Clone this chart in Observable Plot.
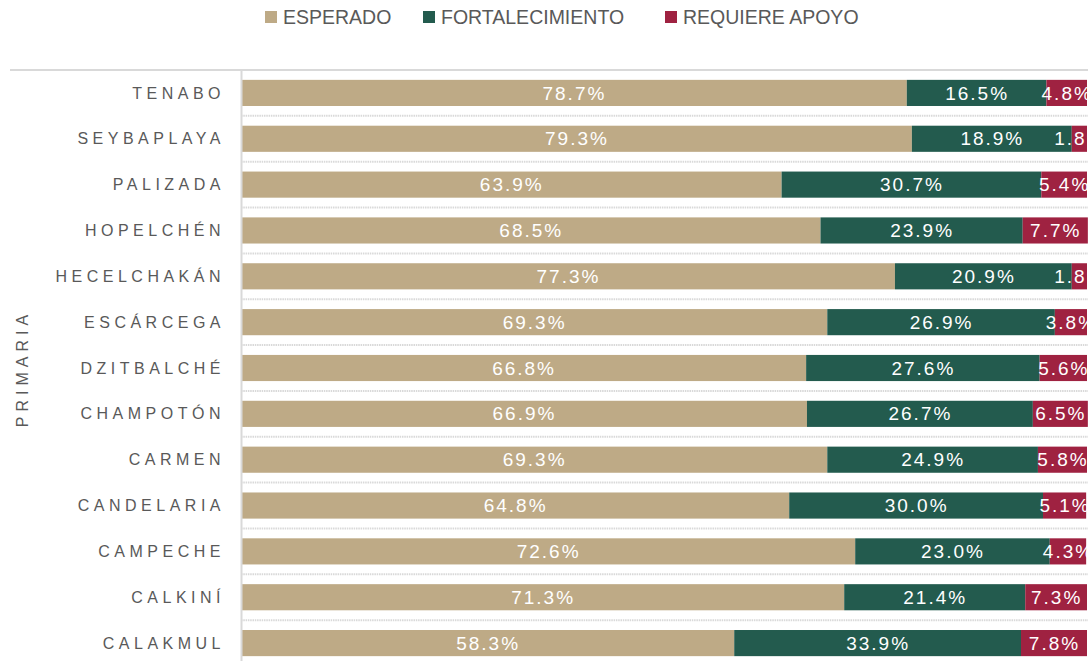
<!DOCTYPE html>
<html>
<head>
<meta charset="utf-8">
<script src="https://cdn.jsdelivr.net/npm/d3@7"></script>
<script src="https://cdn.jsdelivr.net/npm/@observablehq/plot@0.6"></script>
<style>
  html, body { margin: 0; padding: 0; background: #fff; overflow: hidden; }
  #legend { position: relative; height: 40px; width: 1090px; font-family: "Liberation Sans", Arial, sans-serif; font-size: 19.5px; color: #595959; }
  .item { position: absolute; top: 7px; display: flex; align-items: center; height: 20px; }
  .sw { width: 12px; height: 12px; margin-right: 6px; }
  .chart [aria-label="y-axis tick label"] text { letter-spacing: 4.5px; }
</style>
</head>
<body>
<div id="legend"></div>
<div id="chart"></div>
<script>
const categories = ["TENABO", "SEYBAPLAYA", "PALIZADA", "HOPELCHÉN", "HECELCHAKÁN", "ESCÁRCEGA", "DZITBALCHÉ", "CHAMPOTÓN", "CARMEN", "CANDELARIA", "CAMPECHE", "CALKINÍ", "CALAKMUL"];
const esperado        = [78.7, 79.3, 63.9, 68.5, 77.3, 69.3, 66.8, 66.9, 69.3, 64.8, 72.6, 71.3, 58.3];
const fortalecimiento = [16.5, 18.9, 30.7, 23.9, 20.9, 26.9, 27.6, 26.7, 24.9, 30.0, 23.0, 21.4, 33.9];
const requiereApoyo   = [4.8, 1.8, 5.4, 7.7, 1.8, 3.8, 5.6, 6.5, 5.8, 5.1, 4.3, 7.3, 7.8];
const seriesNames = ["ESPERADO", "FORTALECIMIENTO", "REQUIERE APOYO"];
const seriesColors = ["#BEAA86", "#235B4E", "#9F2241"];
const axisTitle = "PRIMARIA";

const seriesValues = [esperado, fortalecimiento, requiereApoyo];
const data = categories.flatMap((name, i) =>
  seriesNames.map((s, j) => ({name, series: s, value: seriesValues[j][i]}))
);

// legend
const legend = document.getElementById("legend");
const legendX = [265, 423, 665];
seriesNames.forEach((s, j) => {
  const it = document.createElement("div");
  it.className = "item";
  it.style.left = legendX[j] + "px";
  it.innerHTML = `<span class="sw" style="background:${seriesColors[j]}"></span><span>${s}</span>`;
  legend.appendChild(it);
});

const gridColor = "#D9D9D9";
const padInner = 0.43;

const separators = (index, scales, values, dims) => {
  const g = d3.create("svg:g");
  const step = (dims.height - dims.marginTop - dims.marginBottom) / categories.length;
  const xEnd = dims.width - 2;
  categories.forEach((c, i) => {
    const y = scales.y(c) - step * padInner / 2;
    g.append("line")
      .attr("x1", i === 0 ? 10 : dims.marginLeft)
      .attr("x2", xEnd)
      .attr("y1", y).attr("y2", y)
      .attr("stroke", gridColor)
      .attr("stroke-width", 2)
      .attr("stroke-dasharray", i === 0 ? null : "1.5,0.8");
  });
  return g.node();
};

const chart = Plot.plot({
  className: "chart",
  width: 1090,
  height: 630,
  marginTop: 30,
  marginBottom: 4,
  marginLeft: 241,
  marginRight: 3,
  style: {fontFamily: "'Liberation Sans', Arial, sans-serif", fontSize: "16px", color: "#595959", background: "#fff"},
  x: {domain: [0, 100], axis: null},
  y: {domain: categories, paddingInner: padInner, paddingOuter: padInner / 2, round: false, label: null, tickSize: 0, tickPadding: 16.5},
  color: {domain: seriesNames, range: seriesColors},
  marks: [
    separators,
    Plot.barX(data, {x: "value", y: "name", fill: "series"}),
    Plot.ruleX([0], {stroke: gridColor, strokeWidth: 2}),
    Plot.text(data, Plot.stackX({
      x: "value", y: "name", z: "series",
      text: d => d.value.toFixed(1) + "%",
      fill: "white", fontSize: 19
    })),
    Plot.text([axisTitle], {frameAnchor: "left", textAnchor: "middle", dx: -219, rotate: -90, fontSize: 16, fill: "#595959"})
  ]
});
document.getElementById("chart").appendChild(chart);

// letter spacing for the value labels and the rotated title
const textGroups = d3.select(chart).selectAll('g[aria-label="text"]').nodes();
d3.select(textGroups[0]).selectAll("text").style("letter-spacing", "2px");
d3.select(textGroups[1]).selectAll("text").style("letter-spacing", "5px");
</script>
</body>
</html>
